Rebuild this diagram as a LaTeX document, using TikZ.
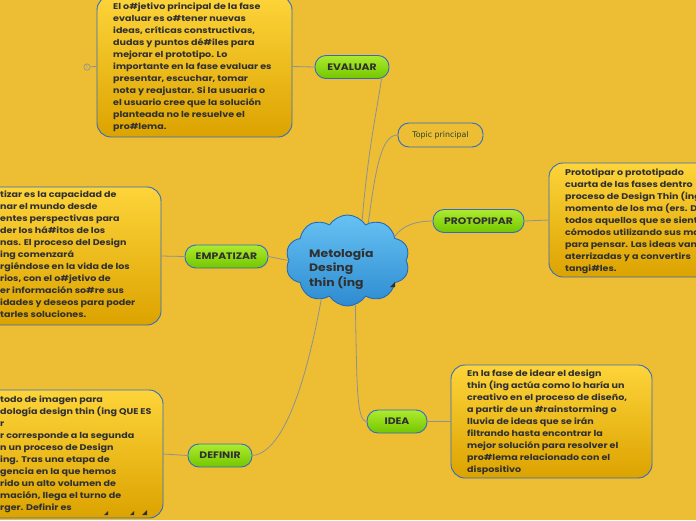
\documentclass[tikz,border=0pt]{standalone}
\usepackage{fontspec}
\setmainfont{Poppins}
\newfontfamily\notefont{Poppins}[FakeStretch=1.15]
\newfontfamily\topicfont{DejaVu Sans}
\usetikzlibrary{shapes.symbols}

\definecolor{bgmustard}{HTML}{EDBD33}
\definecolor{boxtop}{HTML}{FDD43A}
\definecolor{boxbot}{HTML}{DCA300}
\definecolor{boxblue}{HTML}{2F6DC4}
\definecolor{pilltop}{HTML}{ADEB2E}
\definecolor{pillbot}{HTML}{74C600}
\definecolor{cloudtop}{HTML}{66C2F3}
\definecolor{cloudbot}{HTML}{2E8BD0}
\definecolor{cloudline}{HTML}{1F6CC0}
\definecolor{linkgray}{HTML}{8A9199}
\definecolor{inkgray}{HTML}{303030}
\definecolor{topicink}{HTML}{2A442A}

\tikzset{
  notebox/.style={draw=boxblue, line width=0.9pt, rounded corners=14pt,
    top color=boxtop, bottom color=boxbot, inner sep=0pt},
  notetext/.style={anchor=north west, align=left, inner sep=0pt, text=inkgray,
    font=\notefont\fontsize{8.3}{12}\selectfont\bfseries},
  branch/.style={draw=boxblue, line width=0.9pt, rounded corners=11pt,
    top color=pilltop, bottom color=pillbot, text=inkgray, inner sep=0pt,
    font=\notefont\fontsize{9.4}{10}\selectfont\bfseries, minimum height=23pt},
  link/.style={draw=linkgray, line width=0.8pt},
}

\begin{document}
\begin{tikzpicture}[x=1pt,y=-1pt]
  \useasboundingbox[fill=bgmustard] (0,0) rectangle (696,520);

  % central idea
  \node[cloud, cloud puffs=10, cloud puff arc=115, draw=cloudline, line width=0.9pt,
    top color=cloudtop, bottom color=cloudbot, minimum width=124pt,
    minimum height=91pt, inner sep=0pt] (root) at (347.5,260.5) {};
  \node[anchor=north west, align=left, inner sep=0pt, text=inkgray,
    font=\notefont\fontsize{10.8}{14.5}\selectfont\bfseries] (roottext) at (309,248)
    {Metología\\Desing\\thin (ing};
  \fill[inkgray] (395,282) -- (395,287) -- (390,287) -- cycle;

  % branches
  \node[branch, minimum width=74pt] (evaluar) at (352,67) {EVALUAR};
  \node[draw=boxblue, line width=0.9pt, rounded corners=11pt, fill=bgmustard,
    minimum width=85pt, minimum height=24pt, inner sep=0pt, text=topicink,
    font=\topicfont\fontsize{7.9}{9}\selectfont] (topic) at (440.5,135) {Topic principal};
  \node[branch, minimum width=91pt] (protopipar) at (478.5,221) {PROTOPIPAR};
  \node[branch, minimum width=83pt] (empatizar) at (226.5,256.5) {EMPATIZAR};
  \node[branch, minimum width=64pt] (definir) at (220,455.5) {DEFINIR};
  \node[branch, minimum width=60pt] (idea) at (397,421.5) {IDEA};

  % notes
  \node[notebox, minimum width=195pt, minimum height=141pt] (evalbox) at (194.5,66.5) {};
  \node[notetext] (evaltext) at (113,2.5) {El o\#jetivo principal de la fase\\
    evaluar es o\#tener nuevas\\ideas, críticas constructivas,\\
    dudas y puntos dé\#iles para\\mejorar el prototipo. Lo\\
    importante en la fase evaluar es\\presentar, escuchar, tomar\\
    nota y reajustar. Si la usuaria o\\el usuario cree que la solución\\
    planteada no le resuelve el\\pro\#lema.};
  \node[circle, draw=linkgray, line width=0.6pt, inner sep=0.9pt, text=linkgray,
    font=\fontsize{5}{5}\selectfont] (mark) at (87,67) {1};

  \node[notebox, minimum width=171pt, minimum height=114pt] (protobox) at (634.5,220) {};
  \node[notetext] (prototext) at (565,168.5) {Prototipar o prototipado\\
    cuarta de las fases dentro\\proceso de Design Thin (ing\\
    momento de los ma (ers. D\\todos aquellos que se sient\\
    cómodos utilizando sus ma\\para pensar. Las ideas van\\
    aterrizadas y a convertirs\\tangi\#les.};

  \node[notebox, minimum width=221pt, minimum height=138pt] (empbox) at (50.5,256) {};
  \node[notetext] (emptext) at (0,190.5) {tizar es la capacidad de\\
    nar el mundo desde\\entes perspectivas para\\der los há\#itos de los\\
    nas. El proceso del Design\\ing comenzará\\rgiéndose en la vida de los\\
    rios, con el o\#jetivo de\\er información so\#re sus\\
    idades y deseos para poder\\tarles soluciones.};

  \node[notebox, minimum width=223pt, minimum height=128pt] (defbox) at (51.5,454) {};
  \node[notetext] (deftext) at (0,395.5) {todo de imagen para\\
    dología design thin (ing QUE ES\\r\\r corresponde a la segunda\\
    n un proceso de Design\\ing. Tras una etapa de\\gencia en la que hemos\\
    rido un alto volumen de\\mación, llega el turno de\\rger. Definir es};
  \fill[inkgray] (108,511) -- (108,515) -- (104,515) -- cycle;
  \fill[inkgray] (134,511) -- (134,515) -- (130,515) -- cycle;
  \fill[inkgray] (147,510) -- (147,515) -- (142,515) -- cycle;

  \node[notebox, minimum width=201pt, minimum height=113pt] (ideabox) at (551.5,421.5) {};
  \node[notetext] (ideatext) at (467,369.5) {En la fase de idear el design\\
    thin (ing actúa como lo haría un\\creativo en el proceso de diseño,\\
    a partir de un \#rainstorming o\\lluvia de ideas que se irán\\
    filtrando hasta encontrar la\\mejor solución para resolver el\\
    pro\#lema relacionado con el\\dispositivo};

  % connectors
  \draw[link] (mark) -- (evalbox.west);
  \draw[link] (evalbox.east) -- (evaluar.west);
  \draw[link] (protopipar.east) -- (protobox.west);
  \draw[link] (empbox.east) -- (empatizar.west);
  \draw[link] (definir.west) -- (defbox.east);
  \draw[link] (idea.east) -- (ideabox.west);
  \draw[link] (root.70) .. controls (368,150) and (377,110) .. ([xshift=-8pt]evaluar.south east);
  \draw[link] (root.61) .. controls (376,165) and (382,135) .. (topic.west);
  \draw[link] (root.27) .. controls (402,226) and (415,221) .. (protopipar.west);
  \draw[link] (empatizar.east) -- (root.west);
  \draw[link] (definir.east) .. controls (290,452) and (312,350) .. (root.236);
  \draw[link] (root.280) .. controls (357,380) and (356,421) .. (idea.west);
\end{tikzpicture}
\end{document}
